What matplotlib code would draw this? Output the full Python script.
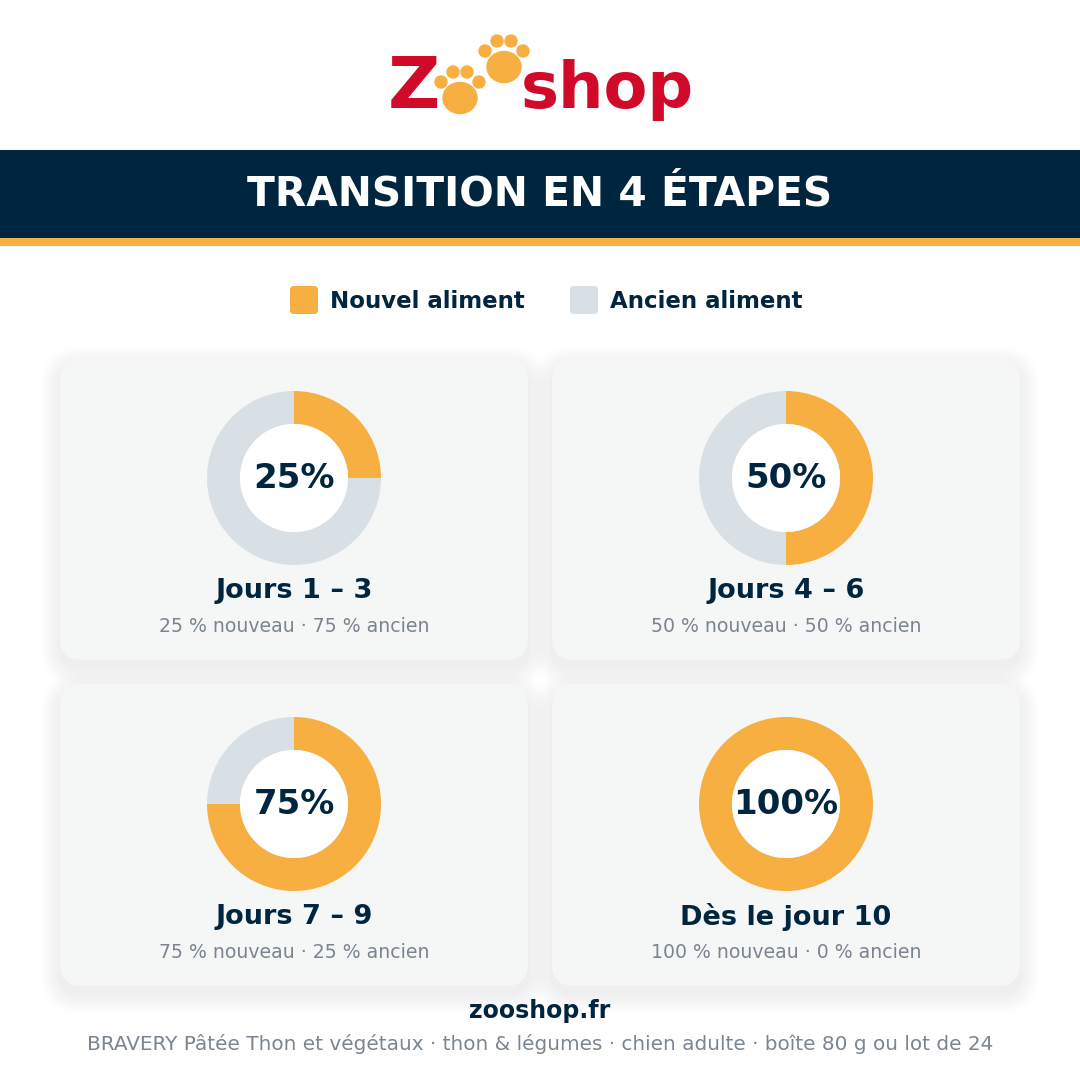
import os
import numpy as np
import matplotlib
matplotlib.use("Agg")
import matplotlib.pyplot as plt
from matplotlib.patches import FancyBboxPatch, Rectangle, Circle, Ellipse
from matplotlib.font_manager import FontProperties

ttf = os.path.join(matplotlib.get_data_path(), "fonts", "ttf")
REG = os.path.join(ttf, "DejaVuSans.ttf")
BOLD = os.path.join(ttf, "DejaVuSans-Bold.ttf")

def fp(size, bold=False):
    return FontProperties(fname=BOLD if bold else REG, size=size)

# data
stage_labels = ["Jours 1 \u2013 3", "Jours 4 \u2013 6", "Jours 7 \u2013 9", "D\u00e8s le jour 10"]
new_share = [25, 50, 75, 100]
old_share = [75, 50, 25, 0]
legend_labels = ["Nouvel aliment", "Ancien aliment"]
title = "TRANSITION EN 4 \u00c9TAPES"
site = "zooshop.fr"
product = "BRAVERY P\u00e2t\u00e9e Thon et v\u00e9g\u00e9taux \u00b7 thon & l\u00e9gumes \u00b7 chien adulte \u00b7 bo\u00eete 80 g ou lot de 24"

NAVY = "#00263F"
ORANGE = "#F8AF42"
GREY = "#D9E0E5"
RED = "#D20A2A"
CARD = "#F5F7F7"
SUB = "#7A8590"

W = H = 1080
fig = plt.figure(figsize=(10.8, 10.8), dpi=100)
fig.patch.set_facecolor("white")
ax = fig.add_axes([0, 0, 1, 1])
ax.set_xlim(0, W)
ax.set_ylim(H, 0)
ax.axis("off")

# logo
ax.text(388, 108, "Z", color=RED, fontproperties=fp(52, True), ha="left", va="baseline")
ax.text(521, 108, "shop", color=RED, fontproperties=fp(46, True), ha="left", va="baseline")
def paw(cx, cy, s):
    ax.add_patch(Ellipse((cx, cy + 2 * s), 34 * s, 31 * s, color=ORANGE, zorder=3))
    for dx, dy in [(-19, -14), (-7, -24), (7, -24), (19, -14)]:
        ax.add_patch(Circle((cx + dx * s, cy + dy * s), 6 * s, color=ORANGE, zorder=3))
paw(460, 96, 1.0)
paw(504, 65, 1.0)

# header
ax.add_patch(Rectangle((0, 150), W, 88, color=NAVY, lw=0))
ax.add_patch(Rectangle((0, 238), W, 8, color=ORANGE, lw=0))
ax.text(540, 195, title, color="white", fontproperties=fp(29.3, True), ha="center", va="center")

# legend
for x0, col, lab in [(290, ORANGE, legend_labels[0]), (570, GREY, legend_labels[1])]:
    ax.add_patch(FancyBboxPatch((x0 + 4, 290), 20, 20, boxstyle="round,pad=4", color=col, lw=0))
    ax.text(x0 + 40, 301, lab, color=NAVY, fontproperties=fp(16.5, True), ha="left", va="center")

# cards
cards = [(60, 358), (552, 358), (60, 684), (552, 684)]
cw, ch = 468, 302
for i, (x0, y0) in enumerate(cards):
    for k in range(8):
        g = 2 + k * 2.5
        ax.add_patch(FancyBboxPatch((x0 + 22, y0 + 22 + 8), cw - 44, ch - 44,
                                    boxstyle="round,pad=%g" % (22 + g), color="black", alpha=0.008,
                                    lw=0, zorder=1))
    ax.add_patch(FancyBboxPatch((x0 + 22, y0 + 22), cw - 44, ch - 44, boxstyle="round,pad=22",
                                color=CARD, lw=0, zorder=2))
    cx = x0 + cw / 2
    cy = y0 + 120
    r = 87
    pax = fig.add_axes([(cx - r) / W, 1 - (cy + r) / H, 2 * r / W, 2 * r / H])
    pax.pie([new_share[i], old_share[i]], colors=[ORANGE, GREY], startangle=90, counterclock=False,
            radius=1, wedgeprops=dict(width=33 / 87, linewidth=0))
    pax.add_patch(Circle((0, 0), 54 / 87, color="white", lw=0))
    pax.set_xlim(-1, 1)
    pax.set_ylim(-1, 1)
    pax.set_aspect("equal")
    pax.axis("off")
    pax.text(0, 0, "%d%%" % new_share[i], color=NAVY, fontproperties=fp(24.5, True),
             ha="center", va="center")
    ax.text(cx, cy + 113, stage_labels[i], color=NAVY, fontproperties=fp(19.5, True),
            ha="center", va="center", zorder=3)
    ax.text(cx, cy + 149, "%d %% nouveau \u00b7 %d %% ancien" % (new_share[i], old_share[i]),
            color=SUB, fontproperties=fp(13.6), ha="center", va="center", zorder=3)

# footer
ax.text(540, 1011, site, color=NAVY, fontproperties=fp(17, True), ha="center", va="center")
ax.text(540, 1044, product, color=SUB, fontproperties=fp(14.4), ha="center", va="center")

fig.savefig("out.png", dpi=100, facecolor="white")
